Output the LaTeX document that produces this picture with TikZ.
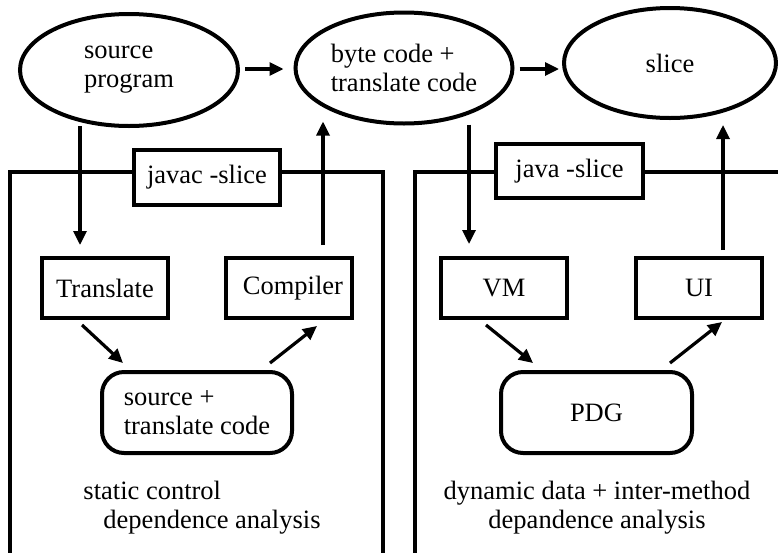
\documentclass[tikz,border=0pt]{standalone}
\usepackage{fontspec}
\setmainfont{Liberation Serif}
\usetikzlibrary{shapes.geometric,arrows.meta}
\tikzset{
  lbl/.style={font=\fontsize{26.5}{29}\selectfont, inner sep=0pt},
  ell/.style={lbl, draw, line width=4pt, ellipse, align=left},
  stepbox/.style={lbl, draw, line width=4pt, rectangle, minimum width=126pt, minimum height=60pt},
  rbox/.style={lbl, draw, line width=4pt, rectangle, rounded corners=22pt, align=left},
  tagbox/.style={lbl, draw, line width=4pt, fill=white, rectangle},
  frame/.style={line width=4pt},
  arr/.style={line width=3.2pt, -{Triangle[length=14pt,width=13pt]}}
}
\begin{document}
\begin{tikzpicture}[x=1pt,y=-1pt]
\useasboundingbox (0,0) rectangle (778,552);
% tool frames
\draw[frame] (10,570) -- (10,172) -- (383,172) -- (383,570);
\draw[frame] (415,570) -- (415,172) -- (800,172);
\node[tagbox, minimum width=146pt, minimum height=55pt] (jvc) at (207,177.5) {javac -slice};
\node[tagbox, minimum width=147pt, minimum height=54pt] (jv) at (569.5,171) {java -slice};
% files
\node[ell, minimum width=218pt, minimum height=112pt] (src) at (129,70) {source\\program};
\node[ell, minimum width=217pt, minimum height=111pt] (bc) at (404,68) {byte code +\\translate code};
\node[ell, minimum width=212pt, minimum height=110pt] (sl) at (670,63) {slice};
% processing steps
\node[stepbox] (tr) at (105,288) {Translate};
\node[stepbox] (co) at (289,288) {\hspace*{8pt}Compiler};
\node[stepbox] (vm) at (504,288) {VM};
\node[stepbox] (ui) at (699,288) {UI};
\node[rbox, minimum width=190pt, minimum height=81pt] (stc) at (197,412.5) {source +\\translate code};
\node[rbox, minimum width=191pt, minimum height=81pt] (pdg) at (596.5,412.5) {PDG};
% captions
\node[lbl, align=left] (capl) at (202,508) {static control\\\hspace*{20pt}dependence analysis};
\node[lbl, align=center] (capr) at (597,508) {dynamic data + inter-method\\depandence analysis};
% flow
\draw[arr] ([xshift=5pt,yshift=1pt]src.east) -- ([xshift=-10pt,yshift=-1pt]bc.west);
\draw[arr] ([xshift=5pt,yshift=-1pt]bc.east) -- ([xshift=-3pt,yshift=-6pt]sl.west);
\draw[arr] ([xshift=-49pt,yshift=2pt]src.south) -- ([xshift=-25pt,yshift=11pt]tr.north);
\draw[arr] ([xshift=34pt,yshift=11pt]co.north) -- ([xshift=-81pt,yshift=4pt]bc.south);
\draw[arr] ([xshift=65pt,yshift=1pt]bc.south) -- ([xshift=-35pt,yshift=12pt]vm.north);
\draw[arr] ([xshift=24pt,yshift=6pt]ui.north) -- ([xshift=53pt,yshift=-5pt]sl.south);
\draw[arr] ([xshift=-23pt,yshift=-5pt]tr.south) -- ([xshift=-74pt,yshift=7pt]stc.north);
\draw[arr] ([xshift=73pt,yshift=7pt]stc.north) -- ([xshift=28pt,yshift=-6pt]co.south);
\draw[arr] ([xshift=-18pt,yshift=-5pt]vm.south) -- ([xshift=-63.5pt,yshift=7pt]pdg.north);
\draw[arr] ([xshift=73.5pt,yshift=7pt]pdg.north) -- ([xshift=23pt,yshift=-2pt]ui.south);
\end{tikzpicture}
\end{document}
